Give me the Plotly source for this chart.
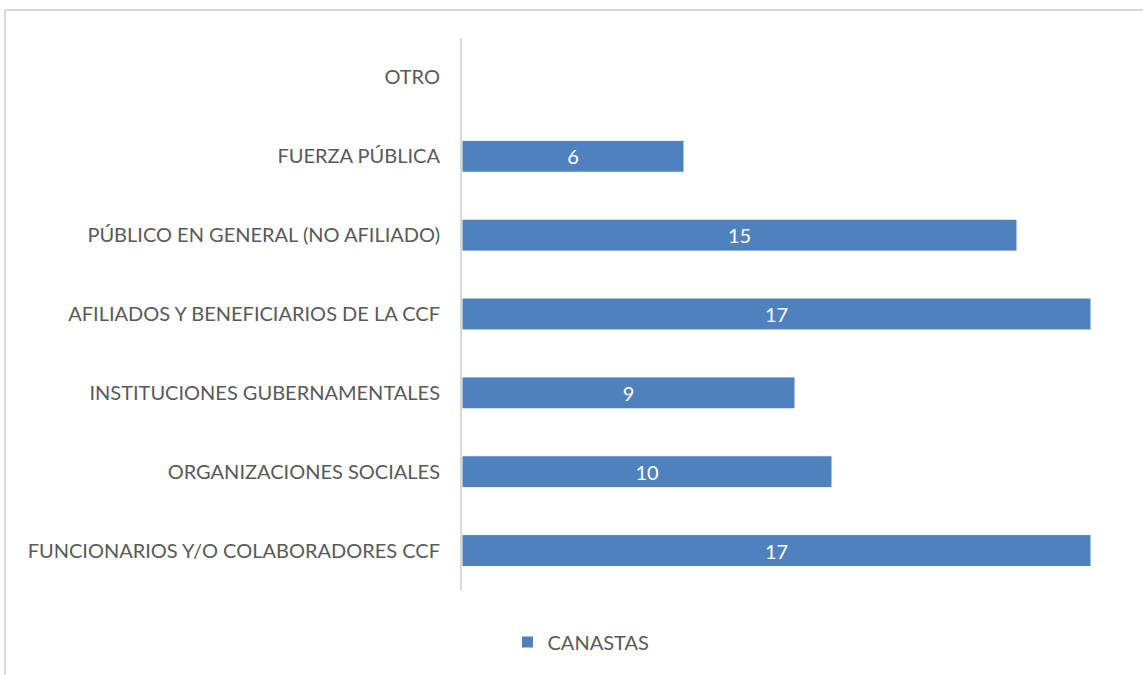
import plotly.graph_objects as go

# categories listed bottom to top, as in the chart
categorias = [
    "FUNCIONARIOS Y/O COLABORADORES CCF",
    "ORGANIZACIONES SOCIALES",
    "INSTITUCIONES GUBERNAMENTALES",
    "AFILIADOS Y BENEFICIARIOS DE LA CCF",
    "PÚBLICO EN GENERAL (NO AFILIADO)",
    "FUERZA PÚBLICA",
    "OTRO",
]
canastas = [17, 10, 9, 17, 15, 6, 0]
etiquetas = ["17", "10", "9", "17", "15", "6", ""]

W, H = 1143, 675
L, R, T, B = 462, 52, 38, 85
pw, ph = W - L - R, H - T - B

def px_x(x):
    return (x - L) / pw

def px_y(y):
    return 1 - (y - T) / ph

fig = go.Figure()
fig.add_trace(go.Bar(
    y=categorias, x=canastas, orientation="h", name="CANASTAS",
    marker=dict(color="#4F81BD", line=dict(color="#FFFFFF", width=1)),
    text=etiquetas, textposition="inside", insidetextanchor="middle",
    textfont=dict(color="#FFFFFF", size=20, family="Lato"),
))

fig.update_layout(
    width=W, height=H,
    margin=dict(l=L, r=R, t=T, b=B, autoexpand=False),
    paper_bgcolor="white", plot_bgcolor="white",
    bargap=0.595,
    font=dict(family="Lato", color="#595959", size=20),
    showlegend=True,
    legend=dict(orientation="h", x=px_x(581), y=px_y(642),
                xanchor="center", yanchor="middle",
                font=dict(size=20, color="#595959")),
    xaxis=dict(range=[0, 17], visible=False, fixedrange=True),
    yaxis=dict(showline=True, linecolor="#D9D9D9", linewidth=2,
               ticks="", showgrid=False, ticklabelstandoff=16,
               tickfont=dict(size=20, color="#595959")),
)

# light outer border (left and top visible in the picture)
fig.add_shape(type="line", xref="paper", yref="paper",
              x0=px_x(5), x1=px_x(1150), y0=px_y(10), y1=px_y(10),
              line=dict(color="#D9D9D9", width=2))
fig.add_shape(type="line", xref="paper", yref="paper",
              x0=px_x(5), x1=px_x(5), y0=px_y(10), y1=px_y(680),
              line=dict(color="#D9D9D9", width=2))

fig.write_html("out.html", config={"displayModeBar": False},
               post_script="document.body.style.margin='0';")
